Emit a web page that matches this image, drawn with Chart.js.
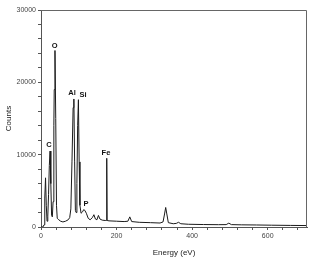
<!DOCTYPE html>
<html>
<head>
  <meta charset="UTF-8">
  <title>EDS spectrum</title>
  <script src="https://cdn.jsdelivr.net/npm/chart.js"></script>
  <style>
    body { margin: 0; background: #fff; }
    #wrap { width: 309px; height: 262px; }
  </style>
</head>
<body>
  <div id="wrap"><canvas id="spec"></canvas></div>

  <script>
    // spectrum: energy (eV) and counts
    const energy = [0, 5, 8, 10, 12, 14, 16, 18, 20, 22, 24, 26, 28, 30, 32, 34, 35, 37, 39, 41, 43,
      47, 52, 58, 65, 72, 76, 79, 82, 85, 87, 89, 91, 93, 95, 97, 99, 101, 103, 106, 110, 113, 116, 120,
      125, 130, 136, 140, 144, 148, 152, 156, 162, 170, 173, 174, 175, 180, 200, 220, 230, 235, 240, 260,
      290, 315, 323, 327, 330, 333, 337, 350, 358, 364, 370, 390, 430, 470, 490, 497, 504, 530, 570, 610, 660, 704];
    const counts = [0, 0, 300, 4000, 6800, 3000, 800, 1500, 4500, 8500, 10500, 6000, 1600, 1400, 3500, 14000, 19000, 24400, 15000, 3000, 1200,
      1000, 800, 700, 800, 1000, 1300, 2500, 9000, 16500, 17700, 9000, 2300, 2000, 6000, 14000, 17600, 9000, 3000, 1900, 2100, 2400, 2300, 1900,
      1200, 1000, 1300, 1700, 1100, 1000, 1600, 1100, 950, 900, 900, 9500, 900, 850, 800, 750, 800, 1400, 750, 650,
      600, 550, 700, 1800, 2700, 1800, 600, 450, 500, 650, 450, 380, 340, 320, 330, 530, 330, 300, 280, 250, 220, 200];

    // element labels and where they sit (energy, counts)
    const elements = ["C", "O", "Al", "Si", "P", "Fe"];
    const elemE = [21, 36, 82, 111, 119, 172];
    const elemC = [11400, 25100, 18600, 18200, 3250, 10200];

    const xTicks = [0, 200, 400, 600];
    const yTicks = [0, 10000, 20000, 30000];

    const points = energy.map((e, i) => ({ x: e, y: counts[i] }));

    const frame = {
      id: "frame",
      afterDatasetsDraw(chart) {
        const { ctx, chartArea: a, scales } = chart;
        ctx.save();
        ctx.strokeStyle = "#666";
        ctx.lineWidth = 1;
        ctx.beginPath();
        ctx.moveTo(a.left, a.top + 0.5);
        ctx.lineTo(a.right - 0.5, a.top + 0.5);
        ctx.lineTo(a.right - 0.5, a.bottom);
        ctx.stroke();
        ctx.fillStyle = "#111";
        ctx.font = "bold 7.5px 'Liberation Sans', Arial, sans-serif";
        ctx.textAlign = "center";
        ctx.textBaseline = "middle";
        elements.forEach((t, i) => {
          ctx.fillText(t, scales.x.getPixelForValue(elemE[i]), scales.y.getPixelForValue(elemC[i]));
        });
        ctx.restore();
      }
    };

    new Chart(document.getElementById("spec"), {
      type: "line",
      data: {
        datasets: [{
          data: points,
          borderColor: "#1a1a1a",
          borderWidth: 1,
          pointRadius: 0,
          tension: 0
        }]
      },
      options: {
        responsive: true,
        maintainAspectRatio: false,
        animation: false,
        layout: { padding: { top: 10, right: 2, left: 0, bottom: 0 } },
        plugins: { legend: { display: false }, tooltip: { enabled: false } },
        scales: {
          x: {
            type: "linear",
            min: 0,
            max: 704,
            afterFit: s => { s.height = 35; },
            afterBuildTicks: s => { s.ticks = []; for (let v = 0; v <= 680; v += 40) s.ticks.push({ value: v }); },
            ticks: {
              autoSkip: false,
              maxRotation: 0,
              padding: 2,
              color: "#444",
              font: { family: "'Liberation Sans', Arial, sans-serif", size: 7 },
              callback: v => xTicks.includes(v) ? v : ""
            },
            grid: { drawOnChartArea: false, tickLength: 3, color: "#555" },
            border: { color: "#555" },
            title: {
              display: true,
              text: "Energy (eV)",
              color: "#222",
              font: { family: "'Liberation Sans', Arial, sans-serif", size: 8 },
              padding: { top: 6 }
            }
          },
          y: {
            min: 0,
            max: 30000,
            afterFit: s => { s.width = 41; },
            afterBuildTicks: s => { s.ticks = []; for (let v = 0; v <= 30000; v += 2000) s.ticks.push({ value: v }); },
            ticks: {
              autoSkip: false,
              padding: 2,
              color: "#444",
              font: { family: "'Liberation Sans', Arial, sans-serif", size: 7 },
              callback: v => yTicks.includes(v) ? v : ""
            },
            grid: { drawOnChartArea: false, tickLength: 3, color: "#555" },
            border: { color: "#555" },
            title: {
              display: true,
              text: "Counts",
              color: "#222",
              font: { family: "'Liberation Sans', Arial, sans-serif", size: 8 },
              padding: { bottom: 6 }
            }
          }
        }
      },
      plugins: [frame]
    });
  </script>
</body>
</html>
